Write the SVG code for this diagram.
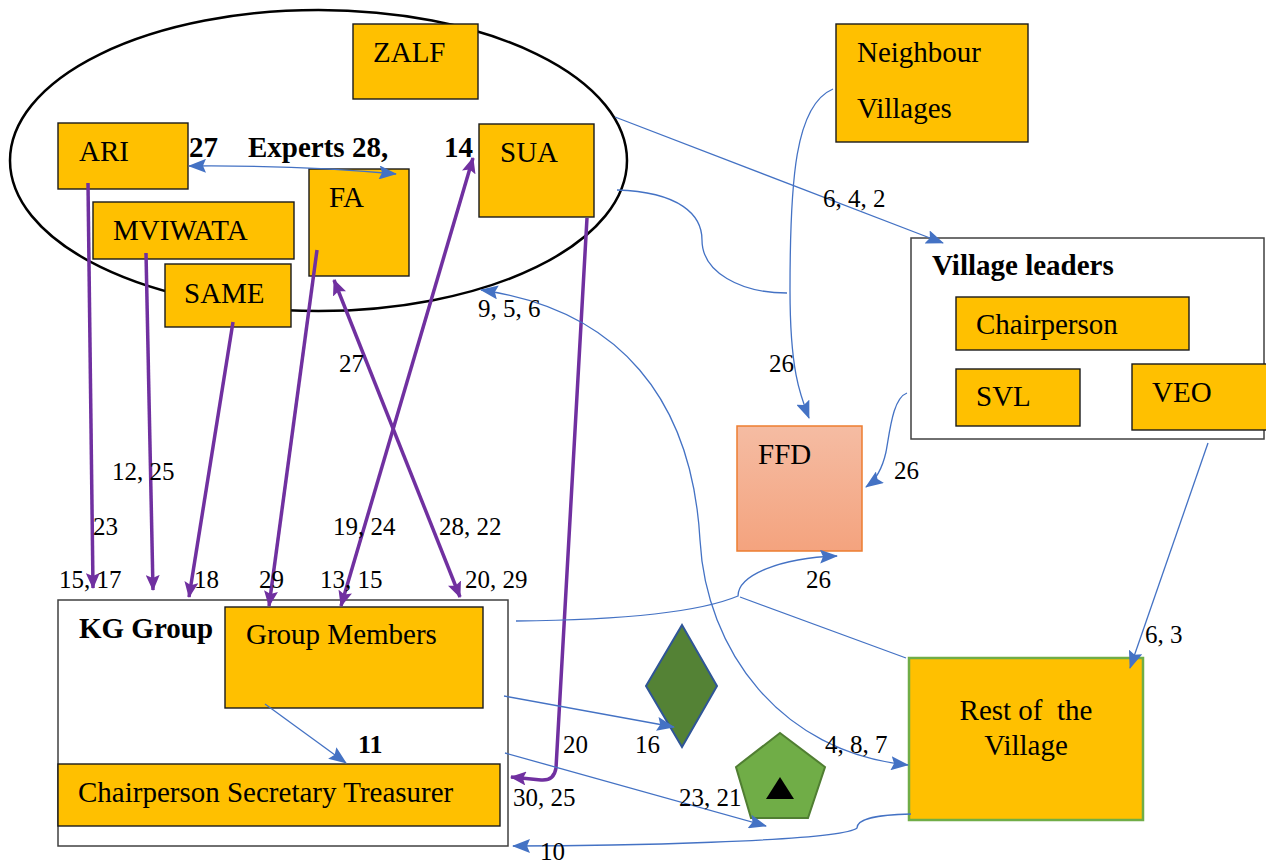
<svg xmlns="http://www.w3.org/2000/svg" width="1266" height="863" viewBox="0 0 1266 863" font-family="'Liberation Serif', 'Times New Roman', 'DejaVu Serif', serif">
<style>
text{font-family:'Liberation Serif','Times New Roman','DejaVu Serif',serif;fill:#000}
.n{font-size:29px}
.b{font-size:29px;font-weight:bold}
.l{font-size:25px}
.box{fill:#ffc000;stroke:#1a1a1a;stroke-width:1.4}
.frame{fill:#fff;stroke:#404040;stroke-width:1.5}
.p{fill:none;stroke:#7030a0;stroke-width:3.5}
.c{fill:none;stroke:#4472c4;stroke-width:1.3}
</style>
<defs>
<linearGradient id="gf" x1="0" y1="0" x2="0" y2="1">
<stop offset="0" stop-color="#f5bca3"/>
<stop offset="1" stop-color="#f4a37e"/>
</linearGradient>
<marker id="ap" markerWidth="16" markerHeight="14" refX="15" refY="7" orient="auto-start-reverse" markerUnits="userSpaceOnUse"><path d="M0,0 L16,7 L0,14 L3,7 z" fill="#7030a0"/></marker>
<marker id="ab" markerWidth="18" markerHeight="14" refX="17" refY="7" orient="auto-start-reverse" markerUnits="userSpaceOnUse"><path d="M0,0 L18,7 L0,14 L3,7 z" fill="#4472c4"/></marker>
</defs>
<rect width="1266" height="863" fill="#fff"/>

<g id="experts">
<ellipse cx="318.5" cy="160.5" rx="308.5" ry="150.5" fill="none" stroke="#000" stroke-width="2.5"/>
</g>
<g id="zalf"><rect class="box" x="353" y="24" width="125" height="75"/><text class="n" x="373" y="62">ZALF</text></g>
<g id="ari"><rect class="box" x="58" y="123" width="130" height="66"/><text class="n" x="79" y="161">ARI</text></g>
<g id="sua"><rect class="box" x="479" y="124" width="115" height="93"/><text class="n" x="500" y="162">SUA</text></g>
<g id="fa"><rect class="box" x="309" y="169" width="100" height="107"/><text class="n" x="329" y="207">FA</text></g>
<g id="mviwata"><rect class="box" x="93" y="202" width="201" height="57"/><text class="n" x="113" y="240">MVIWATA</text></g>
<g id="same"><rect class="box" x="165" y="264" width="126" height="63"/><text class="n" x="184" y="303">SAME</text></g>
<g id="experts-label"><text class="b" x="189" y="157">27</text><text class="b" x="248" y="157">Experts 28,</text><text class="b" x="444" y="157">14</text></g>

<g id="neighbour"><rect class="box" x="836" y="24" width="192" height="118"/><text class="n" x="857" y="62">Neighbour</text><text class="n" x="857" y="118">Villages</text></g>

<g id="village-leaders">
<rect class="frame" x="911" y="238" width="353" height="201"/>
<text class="b" x="932" y="275">Village leaders</text>
</g>
<g id="chairperson"><rect class="box" x="956" y="297" width="233" height="53"/><text class="n" x="976" y="334">Chairperson</text></g>
<g id="svl"><rect class="box" x="956" y="369" width="124" height="57"/><text class="n" x="976" y="406">SVL</text></g>
<g id="veo"><rect class="box" x="1132" y="364" width="140" height="66"/><text class="n" x="1152" y="402">VEO</text></g>

<g id="ffd"><rect x="737" y="426" width="125" height="125" fill="url(#gf)" stroke="#ed7d31" stroke-width="1.5"/><text class="n" x="758" y="464">FFD</text></g>

<g id="kg-group">
<rect class="frame" x="58" y="600" width="450" height="246"/>
<text class="b" x="79" y="638">KG Group</text>
</g>
<g id="group-members"><rect class="box" x="225" y="607" width="258" height="101"/><text class="n" x="246" y="644">Group Members</text></g>
<g id="cst"><rect class="box" x="58" y="764" width="442" height="62"/><text class="n" x="78" y="802">Chairperson Secretary Treasurer</text></g>

<g id="rest-village"><rect x="909" y="658" width="234" height="162" fill="#ffc000" stroke="#70ad47" stroke-width="2.5"/>
<text class="n" x="1026" y="720" text-anchor="middle" xml:space="preserve">Rest of  the</text>
<text class="n" x="1026" y="755" text-anchor="middle">Village</text></g>

<g id="diamond"><polygon points="682,625 717,686 682,747 646,686" fill="#548235" stroke="#2f5597" stroke-width="2"/></g>
<g id="pentagon"><polygon points="780,733 825,767 808,818 751,818 736,767" fill="#70ad47" stroke="#507e32" stroke-width="2"/><polygon points="780,777 794,799 766,799" fill="#000"/></g>

<g id="connectors">
<path class="p" d="M88,183 L93,588" marker-end="url(#ap)"/>
<path class="p" d="M146,253 L153,590" marker-end="url(#ap)"/>
<path class="p" d="M233,322 L189,597" marker-end="url(#ap)"/>
<path class="p" d="M317,250 L269,606" marker-end="url(#ap)"/>
<path class="p" d="M334,280 L460,597" marker-start="url(#ap)" marker-end="url(#ap)"/>
<path class="p" d="M473,158 L341,606" marker-start="url(#ap)" marker-end="url(#ap)"/>
<path class="p" d="M587,218 L556,768 Q554,781 541,780 L511,777" marker-end="url(#ap)"/>
<path class="c" d="M396,174 Q300,165 189,166" marker-start="url(#ab)" marker-end="url(#ab)"/>
<path class="c" d="M615,117 L943,243" marker-end="url(#ab)"/>
<path class="c" d="M617,190 C680,192 702,215 702,240 C702,272 740,293 787,293"/>
<path class="c" d="M833,89 C795,105 790,180 790,290 C790,370 800,395 809,418" marker-end="url(#ab)"/>
<path class="c" d="M907,393 C893,398 890,430 886,452 C882,470 876,480 866,487" marker-end="url(#ab)"/>
<path class="c" d="M516,621 C620,620 700,612 738,596 C738,575 780,558 837,556" marker-end="url(#ab)"/>
<path class="c" d="M740,597 L906,658"/>
<path class="c" d="M504,696 L674,727" marker-end="url(#ab)"/>
<path class="c" d="M481,290 C620,310 692,400 700,540 C706,650 780,752 908,765" marker-start="url(#ab)" marker-end="url(#ab)"/>
<path class="c" d="M505,753 L766,826" marker-end="url(#ab)"/>
<path class="c" d="M911,814 C870,815 857,820 857,828 C840,842 600,846 513,846" marker-end="url(#ab)"/>
<path class="c" d="M1208,443 L1130,668" marker-end="url(#ab)"/>
<path class="c" d="M265,704 L346,763" marker-end="url(#ab)"/>
</g>

<g id="labels">
<text class="l" x="478" y="317">9, 5, 6</text>
<text class="l" x="823" y="207">6, 4, 2</text>
<text class="l" x="769" y="372">26</text>
<text class="l" x="339" y="372">27</text>
<text class="l" x="112" y="480">12, 25</text>
<text class="l" x="93" y="535">23</text>
<text class="l" x="333" y="535">19, 24</text>
<text class="l" x="439" y="535">28, 22</text>
<text class="l" x="59" y="588">15, 17</text>
<text class="l" x="194" y="588">18</text>
<text class="l" x="259" y="588">29</text>
<text class="l" x="320" y="588">13, 15</text>
<text class="l" x="465" y="588">20, 29</text>
<text class="l" x="894" y="479">26</text>
<text class="l" x="806" y="588">26</text>
<text class="l" x="1145" y="643">6, 3</text>
<text class="b" x="358" y="753" style="font-size:26px">11</text>
<text class="l" x="563" y="753">20</text>
<text class="l" x="635" y="753">16</text>
<text class="l" x="825" y="753">4, 8, 7</text>
<text class="l" x="513" y="806">30, 25</text>
<text class="l" x="679" y="806">23, 21</text>
<text class="l" x="540" y="860">10</text>
</g>
</svg>
